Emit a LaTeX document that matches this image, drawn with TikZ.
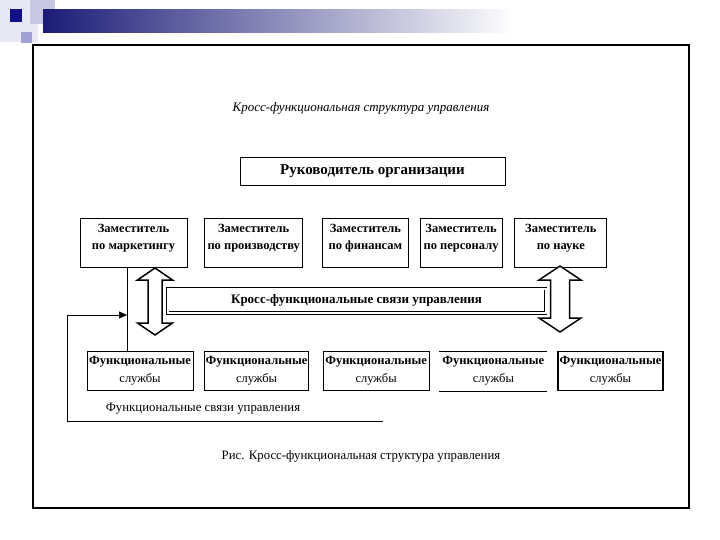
\documentclass[tikz,border=0pt]{standalone}
\usepackage{fontspec}
\setmainfont{Liberation Serif}
\usetikzlibrary{positioning,arrows.meta}

\definecolor{headnavy}{RGB}{28,28,120}
\definecolor{headdark}{RGB}{16,16,140}
\definecolor{headlav}{RGB}{200,200,226}
\definecolor{headlav2}{RGB}{160,160,210}
\definecolor{headpale}{RGB}{232,232,244}

% empty last line: lifts the text in the deputy boxes
\newcommand{\liftpad}{\\[-5pt]\mbox{}}

\begin{document}
\begin{tikzpicture}[
    x=1pt, y=-1pt,
    box/.style={rectangle, draw, line width=0.7pt, inner sep=1pt, align=center},
    deputy/.style={box, minimum height=49pt, font=\fontsize{12.5}{16.5}\selectfont\bfseries},
    service/.style={box, minimum height=39pt, font=\fontsize{12.5}{18}\selectfont},
    band/.style={draw, double, double distance=2pt, line width=0.7pt, minimum width=378pt,
        minimum height=24.5pt, inner sep=0pt, font=\fontsize{13}{14}\selectfont\bfseries},
    blockarrow/.style={draw, fill=white, line width=1.5pt, line join=miter},
    link/.style={line width=0.7pt}
]
\useasboundingbox (0,0) rectangle (720,540);

% Slide header
\fill[headpale] (0,0) rectangle (38,42);
\fill[headlav] (30,0) rectangle (55,24);
\shade[left color=headnavy, right color=white] (43,10) rectangle (515,33);
\fill[headdark] (10,9) rectangle (22,22);
\fill[headlav2] (21,32) rectangle (32,43);

% Frame
\draw[line width=2.6pt] (33,45) rectangle (689,508);

% Title
\node[font=\fontsize{13}{14}\selectfont\itshape] (title) at (361,108) {Кросс-функциональная структура управления};

% Head
\node[box, minimum width=265pt, minimum height=28pt, font=\fontsize{15}{17}\selectfont\bfseries] (head) at (372.5,171) {Руководитель организации};

% Deputies
\node[deputy, minimum width=107pt] (dmark) at (133.5,242.5) {Заместитель\\по маркетингу\liftpad};
\node[deputy, minimum width=98pt, right=17pt of dmark] (dprod) {Заместитель\\по производству\liftpad};
\node[deputy, minimum width=86pt, right=19pt of dprod] (dfin) {Заместитель\\по финансам\liftpad};
\node[deputy, minimum width=82pt, right=11pt of dfin] (dpers) {Заместитель\\по персоналу\liftpad};
\node[deputy, minimum width=92pt, right=12pt of dpers] (dsci) {Заместитель\\по науке\liftpad};

% Cross-functional links
\node[band] (cross) at (356.5,300.75) {Кросс-функциональные связи управления};
\foreach \cx/\yt/\yb/\hw/\sw/\hl in {155/268/335/17.5/7/12, 560/266/332/21/9.5/14}
  \draw[blockarrow] (\cx,\yt) -- (\cx+\hw,\yt+\hl) -- (\cx+\sw,\yt+\hl) -- (\cx+\sw,\yb-\hl)
    -- (\cx+\hw,\yb-\hl) -- (\cx,\yb) -- (\cx-\hw,\yb-\hl) -- (\cx-\sw,\yb-\hl)
    -- (\cx-\sw,\yt+\hl) -- (\cx-\hw,\yt+\hl) -- cycle;

% Functional services
\node[service, minimum width=106pt] (srv1) at (140,371) {\textbf{Функциональные}\\службы};
\node[service, minimum width=103pt, right=11pt of srv1] (srv2) {\textbf{Функциональные}\\службы};
\node[service, minimum width=106pt, right=14pt of srv2] (srv3) {\textbf{Функциональные}\\службы};
\node[service, minimum width=107pt, right=10pt of srv3, draw=none] (srv4) {\textbf{Функциональные}\\службы};
\node[service, minimum width=105pt, right=10pt of srv4, line width=1.6pt] (srv5) {\textbf{Функциональные}\\службы};
\draw[link] (srv4.north west) -- (srv4.north east);
\draw[link] (srv4.south west) -- (srv4.south east);

% Functional links
\coordinate (tap) at (127,0);
\coordinate (fbin) at (127,315);
\coordinate (fbcorner) at (67,315);
\coordinate (fbend) at (383,421);
\draw[link] (tap |- dmark.south) -- (tap |- srv1.north);
\draw[link, -{Triangle[length=8pt, width=7pt]}] (fbend) -| (fbcorner) -- (fbin);
\node[font=\fontsize{12.8}{14}\selectfont] (fblabel) at (203,409) {Функциональные связи управления};

% Caption
\node[font=\fontsize{12.8}{14}\selectfont] (caption) at (361,456) {Рис. Кросс-функциональная структура управления};
\end{tikzpicture}
\end{document}
